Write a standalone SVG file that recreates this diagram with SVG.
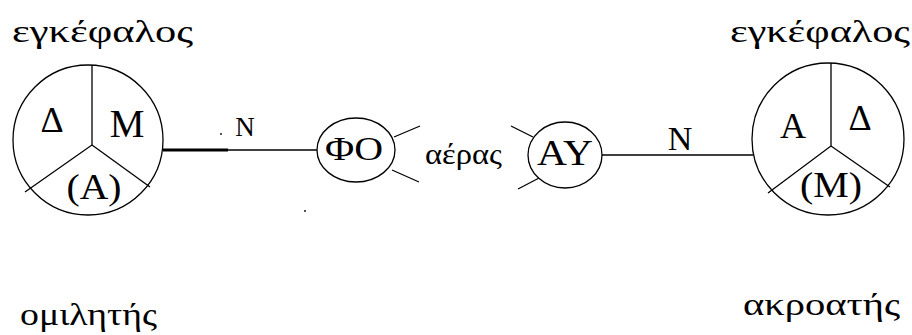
<svg xmlns="http://www.w3.org/2000/svg" width="912" height="335" viewBox="0 0 912 335">
<style>
.ln{stroke:#000;stroke-width:1.3;fill:none}
.sh{fill:#fff;stroke:#000;stroke-width:1.3}
text{font-family:"Liberation Serif","DejaVu Serif",serif;fill:#000}
.lab{font-size:32px}
.big{font-size:36px;text-anchor:middle}
.mid{font-size:33px;text-anchor:middle}
</style>
<rect width="912" height="335" fill="#fff"/>
<g id="connectors">
<line class="ln" x1="163" y1="150" x2="228" y2="150" style="stroke-width:3"/>
<line class="ln" x1="228" y1="150" x2="317" y2="150"/>
<line class="ln" x1="602" y1="155" x2="753" y2="155"/>
<line class="ln" x1="394" y1="137" x2="420" y2="126"/>
<line class="ln" x1="392" y1="170" x2="419" y2="182"/>
<line class="ln" x1="511" y1="126" x2="533" y2="137"/>
<line class="ln" x1="518" y1="189" x2="541" y2="177"/>
<text x="245" y="136" class="big" style="font-size:27px">N</text>
<text x="680" y="150" class="big" style="font-size:34px">N</text>
<circle cx="221" cy="134" r="0.9" fill="#000"/>
<circle cx="305" cy="211" r="0.9" fill="#000"/>
</g>
<g id="speaker">
<text x="12" y="42" class="lab" textLength="181" lengthAdjust="spacingAndGlyphs">εγκέφαλος</text>
<circle class="sh" cx="88" cy="140" r="75"/>
<polyline class="ln" points="92,65 92,145 25,192"/>
<line class="ln" x1="92" y1="145" x2="150" y2="187"/>
<text x="52" y="132" class="big">Δ</text>
<text x="127" y="137" class="big" style="font-size:39px">M</text>
<text x="94" y="199" class="big" textLength="55" lengthAdjust="spacingAndGlyphs">(A)</text>
<text x="20" y="325" class="lab" textLength="137" lengthAdjust="spacingAndGlyphs">ομιλητής</text>
</g>
<g id="FO">
<ellipse class="sh" cx="356" cy="150" rx="39" ry="32"/>
<text x="354" y="160" class="mid" textLength="58" lengthAdjust="spacingAndGlyphs">ΦO</text>
</g>
<g id="air">
<text x="425" y="164" class="lab" style="font-size:29px" textLength="77" lengthAdjust="spacingAndGlyphs">αέρας</text>
</g>
<g id="AY">
<ellipse class="sh" cx="565" cy="155" rx="37" ry="33"/>
<text x="565" y="165" class="mid" style="font-size:35px" textLength="56" lengthAdjust="spacingAndGlyphs">AY</text>
</g>
<g id="listener">
<text x="730" y="42" class="lab" textLength="180" lengthAdjust="spacingAndGlyphs">εγκέφαλος</text>
<circle class="sh" cx="828" cy="139" r="76"/>
<polyline class="ln" points="831,63 831,146 768,193"/>
<line class="ln" x1="831" y1="146" x2="890" y2="187"/>
<text x="793" y="138" class="big">A</text>
<text x="860" y="130" class="big">Δ</text>
<text x="831" y="197" class="big" textLength="62" lengthAdjust="spacingAndGlyphs">(M)</text>
<text x="743" y="315" class="lab" textLength="157" lengthAdjust="spacingAndGlyphs">ακροατής</text>
</g>
</svg>
